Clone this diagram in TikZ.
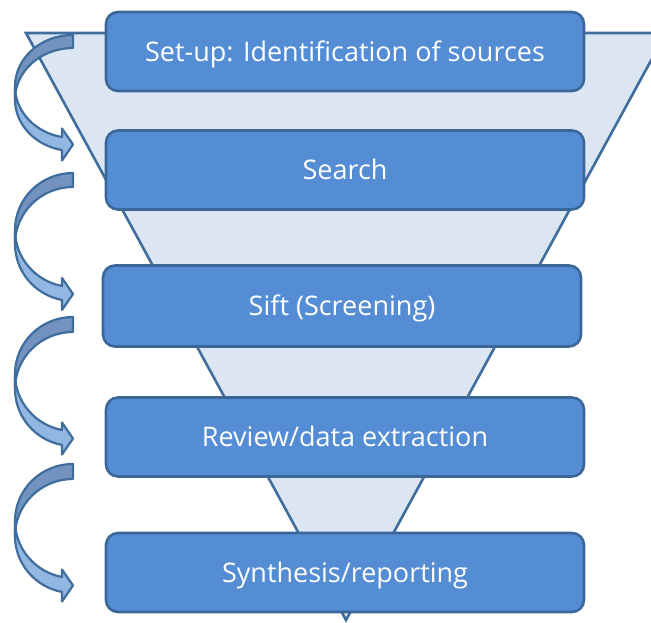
\documentclass[tikz,border=0pt]{standalone}
\usepackage{fontspec}
\setmainfont{Open Sans}
\usetikzlibrary{calc}
\definecolor{boxfill}{HTML}{548DD4}
\definecolor{boxline}{HTML}{3B6698}
\definecolor{funfill}{HTML}{DCE6F2}
\definecolor{funline}{HTML}{3F6D9E}
\definecolor{arrdark}{HTML}{7393BE}
\definecolor{arrlight}{HTML}{93B7E3}
\tikzset{
  stagebox/.style={draw=boxline, line width=2.6pt, fill=boxfill, rounded corners=12pt,
    minimum width=478pt, minimum height=79pt, inner sep=0pt, text=white,
    font=\fontsize{27}{31}\selectfont, text height=19.3pt, text depth=0pt},
}
% #1 = y of tail top (px), #2 = half height hR, #3 = shaft thickness
\newcommand\curvedarrow[3]{%
  \begin{scope}[shift={(73,-#1)}]
    \pgfmathsetmacro\tipy{-(2*#2+#3/2)}
    \pgfmathsetmacro\ca{-#2}
    \pgfmathsetmacro\cb{-(#2+#3)}
    % light front band
    \fill[arrlight, draw=funline, line width=2.2pt, line join=round]
      (-58,\ca) arc[start angle=180, end angle=259.06, x radius=58pt, y radius=#2 pt]
      -- (-11,\tipy+16) -- (0,\tipy) -- (-11,\tipy-16)
      -- ($(0,\cb)+(259.06:58pt and #2 pt)$)
      arc[start angle=259.06, end angle=180, x radius=58pt, y radius=#2 pt] -- cycle;
    % dark back band
    \fill[arrdark, draw=funline, line width=2.2pt, line join=round]
      (0,0) arc[start angle=90, end angle=180, x radius=58pt, y radius=#2 pt]
      -- (-58,\cb) arc[start angle=180, end angle=90, x radius=58pt, y radius=#2 pt] -- cycle;
  \end{scope}}
\begin{document}
\begin{tikzpicture}[x=1pt,y=1pt]
\useasboundingbox (0,0) rectangle (651,-623);
\clip (0,0) rectangle (651,-623);
% funnel
\draw[draw=funline, fill=funfill, line width=2.6pt, line join=miter]
  (26,-33) -- (666,-33) -- (346,-620) -- cycle;
% stages
\node[stagebox] (s1) at (345,-51.5) {Set-up: Identification of sources};
\node[stagebox] (s2) at (345,-170) {Search};
\node[stagebox, minimum height=81pt] (s3) at (342,-306) {Sift (Screening)};
\node[stagebox] (s4) at (345,-437) {Review/data extraction};
\node[stagebox] (s5) at (345,-572.5) {Synthesis/reporting};
% curved arrows
\curvedarrow{35}{51.5}{13}
\curvedarrow{173}{57}{14}
\curvedarrow{317}{57}{15}
\curvedarrow{464}{57}{15}
\end{tikzpicture}
\end{document}
